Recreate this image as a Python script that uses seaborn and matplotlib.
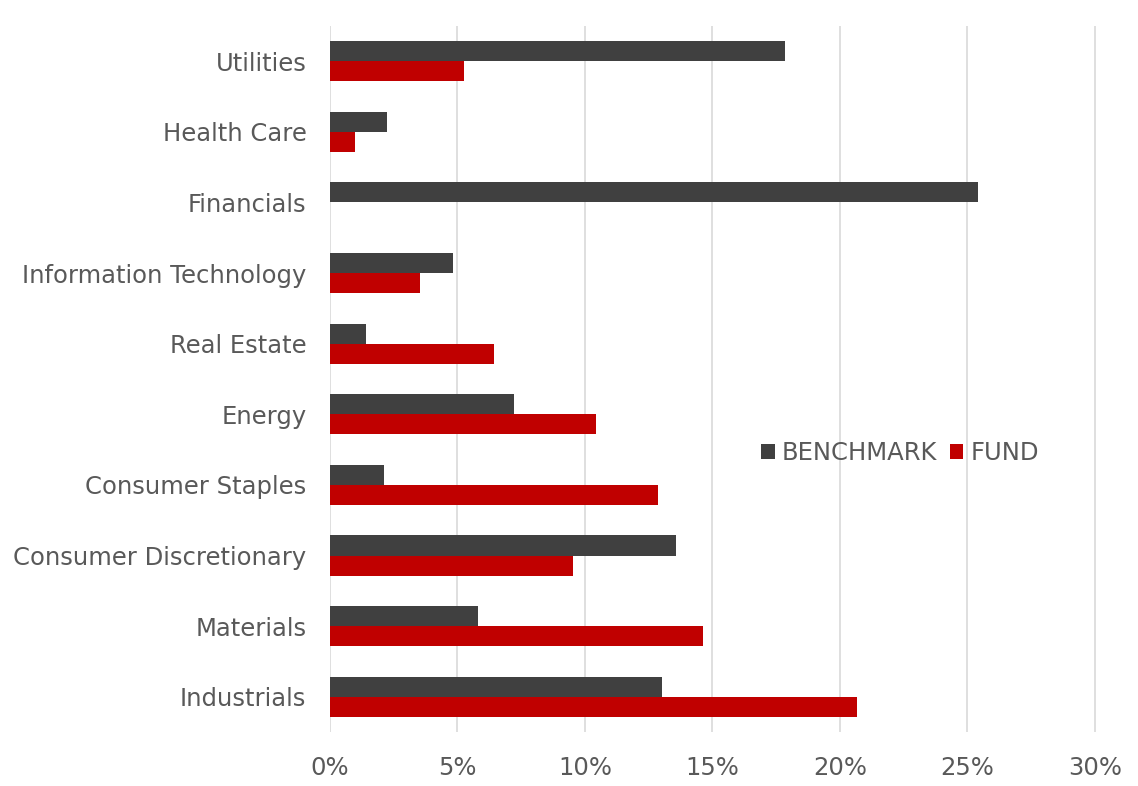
import numpy as np
import pandas as pd
import matplotlib
matplotlib.use('Agg')
import matplotlib.pyplot as plt
import seaborn as sns
from matplotlib.ticker import PercentFormatter

sectors = ['Utilities', 'Health Care', 'Financials', 'Information Technology',
           'Real Estate', 'Energy', 'Consumer Staples', 'Consumer Discretionary',
           'Materials', 'Industrials']
benchmark = [17.84, 2.23, 25.44, 4.81, 1.42, 7.21, 2.12, 13.59, 5.81, 13.04]
fund = [5.24, 0.99, 0.0, 3.55, 6.42, 10.43, 12.87, 9.53, 14.65, 20.67]
series = ['BENCHMARK', 'FUND']
colors = ['#404040', '#C00000']

df = pd.DataFrame({
    'sector': sectors * 2,
    'weight': benchmark + fund,
    'series': [series[0]] * len(sectors) + [series[1]] * len(sectors),
})

sns.set_style('white')
plt.rcParams['font.family'] = ['DejaVu Sans']
text_color = '#595959'

fig = plt.figure(figsize=(11.38, 7.86), dpi=100)
ax = fig.add_axes([330 / 1138, 54 / 786, (1110 - 330) / 1138, (732 - 26) / 786])

sns.barplot(data=df, y='sector', x='weight', hue='series', order=sectors,
            hue_order=series, palette=colors, orient='h', width=0.57,
            saturation=1, errorbar=None, linewidth=0, ax=ax)

ax.set_xlim(0, 30.6)
ax.set_xticks(np.arange(0, 31, 5))
ax.xaxis.set_major_formatter(PercentFormatter(decimals=0))
ax.grid(axis='x', color='#D9D9D9', linewidth=1.2)
ax.set_axisbelow(True)
for s in ax.spines.values():
    s.set_visible(False)
ax.set_xlabel('')
ax.set_ylabel('')
ax.tick_params(axis='both', length=0, labelsize=17.5, labelcolor=text_color)
ax.tick_params(axis='x', pad=17)
ax.tick_params(axis='y', pad=17)

leg = ax.legend(loc='center left', bbox_to_anchor=(0.525, 0.395), ncol=2,
                frameon=False, fontsize=17.5, handlelength=0.55, handleheight=0.55,
                handletextpad=0.3, columnspacing=0.5, labelcolor=text_color)

fig.savefig('out.png', dpi=100)
